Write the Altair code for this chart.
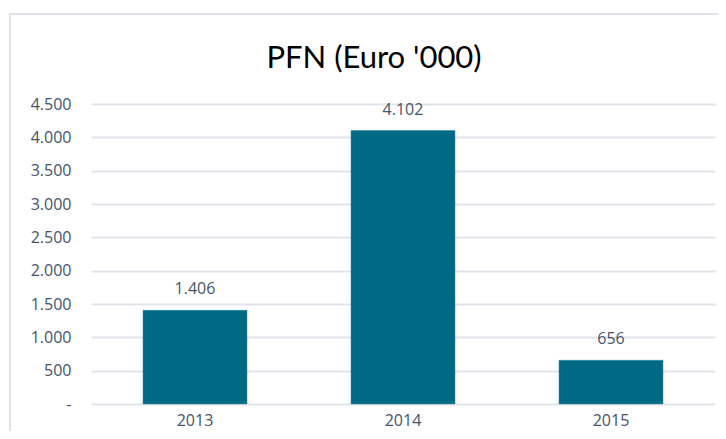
import altair as alt
import pandas as pd

years = ["2013", "2014", "2015"]
values = [1406, 4102, 656]

df = pd.DataFrame({"year": years, "value": values})

TXT = "#44546A"
GRID = "#E1E5EB"
FONT = "Open Sans"

fmt = "replace(format(%s, ','), ',', '.')"

x = alt.X("year:N", title=None, sort=years,
          scale=alt.Scale(paddingInner=0.5, paddingOuter=0.25),
          axis=alt.Axis(labelAngle=0, domain=False, ticks=False, labelPadding=8,
                        labelFont=FONT, labelFontSize=16, labelColor=TXT))
y = alt.Y("value:Q", title=None,
          scale=alt.Scale(domain=[0, 4500], nice=False),
          axis=alt.Axis(tickCount=10, domain=False, ticks=False, labelPadding=20,
                        gridColor=GRID, gridWidth=2, labelOverlap=False,
                        labelFont=FONT, labelFontSize=16, labelColor=TXT,
                        labelExpr="datum.value == 0 ? '-' : " + fmt % "datum.value"))

bars = alt.Chart(df).mark_bar(color="#006983", stroke="#2a8aa0", strokeWidth=0.5).encode(x=x, y=y)

labels = alt.Chart(df).transform_calculate(
    lbl=fmt % "datum.value"
).mark_text(dy=-21, font=FONT, fontSize=16, color=TXT).encode(
    x=alt.X("year:N", sort=years), y="value:Q", text="lbl:N")

frame_top = alt.Chart(df).mark_rule(color="#DDE2E9", strokeWidth=2, clip=False).encode(
    x=alt.value(-81), x2=alt.value(700), y=alt.value(-90))
frame_left = alt.Chart(df).mark_rule(color="#DDE2E9", strokeWidth=2, clip=False).encode(
    x=alt.value(-81), y=alt.value(-90), y2=alt.value(500))

chart = alt.layer(frame_top, frame_left, bars, labels).properties(
    width=624, height=300,
    autosize=alt.AutoSizeParams(type="none"),
    padding={"left": 83, "top": 96, "right": 3, "bottom": 27},
    title=alt.TitleParams("PFN (Euro '000)", font="Lato", fontSize=31, fontWeight="normal",
                          color="#000000", anchor="middle", dx=-29, offset=-86,
                          baseline="alphabetic"),
).configure_view(stroke=None)

chart.save("out.html", embed_options={"renderer": "svg", "actions": False})
